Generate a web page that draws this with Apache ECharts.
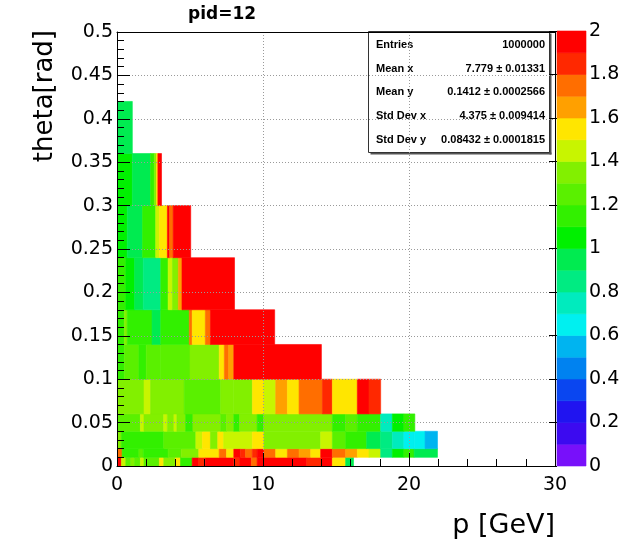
<!DOCTYPE html>
<html><head><meta charset="utf-8">
<script src="https://cdn.jsdelivr.net/npm/echarts@6/dist/echarts.min.js"></script>
<style>html,body{margin:0;padding:0;background:#fff}#c{width:637px;height:547px}</style>
</head><body><div id="c"></div>
<script>
// theta row edges (rad)
const yEdges = [0, 0.01, 0.02, 0.04, 0.06, 0.10, 0.14, 0.18, 0.24, 0.30, 0.36, 0.42];

// per-row p bin edges (GeV) and bin contents (colour value)
const row0X = [0,0.3,0.6,0.95,1.2,1.6,1.85,2.9,3.2,4.0,4.35,5.15,5.6,6.05,8.0,8.4,9.2,9.6,13.0,14.0,14.75,15.66,16.2];
const row0V = [1.95,1.4,1.2,1.35,1.2,1.4,1.2,1.55,1.3,1.5,1.15,1.95,1.8,1.95,1.85,1.95,1.75,1.95,1.85,1.95,1.55,0.9];
const row1X = [0,0.35,1.5,1.8,3.5,4.4,5.6,7.0,7.5,8.0,8.45,8.8,9.27,9.6,10.07,10.87,11.67,12.47,13.27,13.95,14.75,15.66,16.46,17.26,18.06,18.86,19.65,20.35,21.95];
const row1V = [1.7,1.15,1.25,1.15,1.2,1.3,1.5,1.75,1.5,1.95,1.85,1.75,1.85,1.95,1.7,1.55,1.75,1.65,1.55,1.95,1.75,1.65,1.55,1.4,0.8,1.0,1.1,0.9];
const row2X = [0,0.3,3.2,5.4,5.85,6.4,6.9,7.3,9.27,10.07,13.95,14.75,15.66,17.1,18.06,18.86,19.65,20.35,21.1,21.95];
const row2V = [1.3,1.15,1.25,1.45,1.5,1.35,1.5,1.45,1.5,1.3,1.45,1.25,1.1,0.95,0.8,0.75,0.68,0.65,0.52];
const row3X = [0,1.6,1.85,3.2,3.45,3.9,4.1,4.7,5.2,7.1,7.5,8.0,8.4,9.6,10.05,14.75,15.66,16.46,18.06,18.86,19.65,20.4];
const row3V = [1.25,1.4,1.3,1.45,1.3,1.45,1.3,1.15,1.3,1.2,1.3,1.1,1.3,1.1,1.3,1.1,1.25,1.15,0.75,1.05,1.1];
const row4X = [0,1.85,2.3,4.6,7.1,8.0,9.27,10.07,10.87,11.67,12.47,14.07,14.75,16.46,17.26,18.06];
const row4V = [1.3,1.4,1.3,1.2,1.3,1.3,1.5,1.45,1.65,1.55,1.75,1.85,1.55,1.95,1.85];
const row5X = [0,0.5,1.5,2.0,3.0,5.0,7.0,7.35,7.65,8.0,14.0];
const row5V = [1.15,1.25,1.15,1.25,1.2,1.3,1.55,1.75,1.65,1.95];
const row6X = [0,0.5,0.7,2.4,3.0,4.95,5.15,6.05,6.4,10.8];
const row6V = [1.1,1.3,1.1,0.92,1.1,1.7,1.55,1.75,1.95];
const row7X = [0,0.6,1.2,1.8,3.0,3.5,3.8,4.2,4.45,8.05];
const row7V = [1.1,1.05,0.92,0.88,1.1,1.45,1.35,1.65,1.95];
const row8X = [0,0.7,1.75,2.65,2.9,3.45,3.6,3.85,5.05];
const row8V = [1.05,0.92,1.1,1.45,1.55,1.95,1.7,1.95];
const row9X = [0,1.05,2.3,2.55,2.7,2.8,3.05];
const row9V = [1.05,0.95,1.1,1.3,1.55,1.95];
const row10X = [0,1.05];
const row10V = [0.95];

// colour palette (20 levels from 0 to 2)
const paletteColors = ['#7810fa','#3c0af0','#2014f0','#0a46f0','#0082f0','#00b4f0','#00f0f0','#00ebbe','#00eb82','#00eb50',
                       '#00f000','#32f000','#5af000','#82f000','#c8f500','#ffe600','#ffa000','#ff6e00','#ff2800','#ff0000'];

const statsLabels = ['Entries','Mean x','Mean y','Std Dev x','Std Dev y'];
const statsValues = ['1000000','7.779 \u00b1 0.01331','0.1412 \u00b1 0.0002566','4.375 \u00b1 0.009414','0.08432 \u00b1 0.0001815'];

const rowsX = [row0X,row1X,row2X,row3X,row4X,row5X,row6X,row7X,row8X,row9X,row10X];
const rowsV = [row0V,row1V,row2V,row3V,row4V,row5V,row6V,row7V,row8V,row9V,row10V];

const cells = [];
rowsX.forEach((xs, r) => {
  const vs = rowsV[r];
  for (let i = 0; i < vs.length; i++) cells.push([xs[i], xs[i+1], yEdges[r], yEdges[r+1], vs[i]]);
});
const barCells = paletteColors.map((c, i) => [0, 1, i/10, (i+1)/10, (i+0.5)/10]);

function renderCell(params, api) {
  const a = api.coord([api.value(0), api.value(3)]);
  const b = api.coord([api.value(1), api.value(2)]);
  const col = api.visual('color');
  return { type: 'rect', shape: { x: a[0], y: a[1], width: b[0]-a[0], height: b[1]-a[1] },
           style: { fill: col, stroke: col, lineWidth: 0.6 } };
}

const FONT = 'DejaVu Sans';
const lab = { fontFamily: FONT, fontSize: 19, color: '#000' };
const G = { left: 117, top: 32, width: 438, height: 434 };

const chart = echarts.init(document.getElementById('c'), null, { renderer: 'canvas' });
const statsG = [];
const bx = 368.5, by = 31.5, bw = 181, bh = 121;
// box outline (transparent inside so the grid shows through, as in the original) plus a thin shadow
statsG.push({ type: 'rect', shape: { x: bx + bw, y: by + 2, width: 2, height: bh }, style: { fill: '#555' } });
statsG.push({ type: 'rect', shape: { x: bx + 2, y: by + bh, width: bw, height: 2 }, style: { fill: '#555' } });
statsG.push({ type: 'rect', shape: { x: bx, y: by, width: bw, height: bh }, style: { fill: 'none', stroke: '#333', lineWidth: 1 } });
statsLabels.forEach((t, i) => {
  const yy = 45 + i * 23.7;
  statsG.push({ type: 'text', x: 376, y: yy, style: { text: t, font: 'bold 11px "Liberation Sans"', fill: '#000', textAlign: 'left', textVerticalAlign: 'middle' } });
  statsG.push({ type: 'text', x: 545, y: yy, style: { text: statsValues[i], font: 'bold 11px "Liberation Sans"', fill: '#000', textAlign: 'right', textVerticalAlign: 'middle' } });
});

chart.setOption({
  animation: false,
  backgroundColor: '#fff',
  grid: [
    Object.assign({ show: false }, G),
    { left: 557, top: 31, width: 29, height: 435, show: false }
  ],
  xAxis: [
    { gridIndex: 0, type: 'value', min: 0, max: 30, interval: 10, z: 5,
      axisLine: { show: true, onZero: false, lineStyle: { color: '#000', width: 1 } },
      axisTick: { show: true, inside: true, length: 13, lineStyle: { color: '#000' } },
      minorTick: { show: true, splitNumber: 5, length: 7, lineStyle: { color: '#000' } },
      splitLine: { show: true, lineStyle: { color: '#9a9a9a', type: [1, 2], width: 1 } },
      axisLabel: Object.assign({ margin: 10 }, lab) },
    { gridIndex: 0, type: 'value', min: 0, max: 30, position: 'top', z: 6,
      axisLine: { show: true, onZero: false, lineStyle: { color: '#000', width: 1 } },
      axisTick: { show: false }, axisLabel: { show: false }, splitLine: { show: false } },
    { gridIndex: 1, type: 'value', min: 0, max: 1, show: false }
  ],
  yAxis: [
    { gridIndex: 0, type: 'value', min: 0, max: 0.5, interval: 0.05, z: 5,
      axisLine: { show: true, onZero: false, lineStyle: { color: '#000', width: 1 } },
      axisTick: { show: true, inside: true, length: 13, lineStyle: { color: '#000' } },
      minorTick: { show: true, splitNumber: 5, length: 7, lineStyle: { color: '#000' } },
      splitLine: { show: true, lineStyle: { color: '#9a9a9a', type: [1, 2], width: 1 } },
      axisLabel: Object.assign({ margin: 4, formatter: v => String(Math.round(v * 100) / 100) }, lab) },
    { gridIndex: 0, type: 'value', min: 0, max: 0.5, position: 'right', z: 6,
      axisLine: { show: true, onZero: false, lineStyle: { color: '#000', width: 1 } },
      axisTick: { show: false }, axisLabel: { show: false }, splitLine: { show: false } },
    { gridIndex: 1, type: 'value', min: 0, max: 2, interval: 0.2, position: 'right', z: 5,
      axisLine: { show: false },
      axisTick: { show: true, inside: true, length: 8, lineStyle: { color: '#000' } },
      splitLine: { show: false },
      axisLabel: Object.assign({ margin: 3, formatter: v => String(Math.round(v * 10) / 10) }, lab) }
  ],
  visualMap: {
    type: 'piecewise', show: false, dimension: 4, seriesIndex: [0, 1],
    pieces: paletteColors.map((c, i) => (i === 19 ? { gte: i/10, lte: 2, color: c } : { gte: i/10, lt: (i+1)/10, color: c }))
  },
  series: [
    { type: 'custom', xAxisIndex: 0, yAxisIndex: 0, renderItem: renderCell, data: cells,
      encode: { x: [0, 1], y: [2, 3] }, z: 2, clip: true },
    { type: 'custom', xAxisIndex: 2, yAxisIndex: 2, renderItem: renderCell, data: barCells,
      encode: { x: [0, 1], y: [2, 3] }, z: 2 }
  ],
  graphic: [
    { type: 'text', x: 188, y: 15, style: { text: 'pid=12', font: 'bold 17px "DejaVu Sans"', fill: '#000', textVerticalAlign: 'middle' } },
    { type: 'text', x: 45, y: 30, rotation: Math.PI / 2, style: { text: 'theta[rad]', font: '26px "DejaVu Sans"', fill: '#000', textAlign: 'right', textVerticalAlign: 'middle' } },
    { type: 'text', x: 555, y: 526, style: { text: 'p [GeV]', font: '27px "DejaVu Sans"', fill: '#000', textAlign: 'right', textVerticalAlign: 'middle' } }
  ].concat(statsG)
});
</script>
</body></html>
